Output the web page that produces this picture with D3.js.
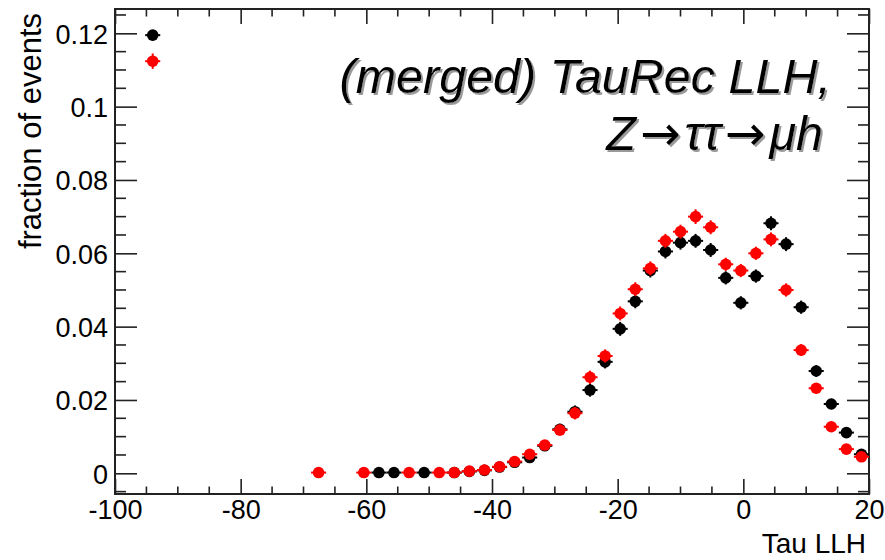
<!DOCTYPE html>
<html>
<head>
<meta charset="utf-8">
<script src="https://cdn.jsdelivr.net/npm/d3@7"></script>
<style>
  html, body { margin: 0; padding: 0; background: #fff; }
  svg { display: block; font-family: "Liberation Sans", Arial, Helvetica, sans-serif; }
</style>
</head>
<body>
<svg id="chart" width="885" height="560"></svg>
<script>
// Tau LLH discriminant, fraction of events per bin (bin width 2.4)
const binWidth = 2.4;
const binCenters = [-94.0, -67.6, -60.4, -58.0, -55.6, -53.2, -50.8, -48.4, -46.0, -43.6,
  -41.2, -38.8, -36.4, -34.0, -31.6, -29.2, -26.8, -24.4, -22.0, -19.6,
  -17.2, -14.8, -12.4, -10.0, -7.6, -5.2, -2.8, -0.4, 2.0, 4.4,
  6.8, 9.2, 11.6, 14.0, 16.4, 18.8];

// black series
const blackValues = [0.1195, null, null, 0.0002, 0.0002, null, 0.0002, null, 0.0002, 0.0005,
  0.0008, 0.0017, 0.0030, 0.0043, 0.0075, 0.0120, 0.0168, 0.0227, 0.0304, 0.0394,
  0.0469, 0.0553, 0.0605, 0.0629, 0.0634, 0.0609, 0.0533, 0.0465, 0.0538, 0.0682,
  0.0625, 0.0453, 0.0279, 0.0189, 0.0111, 0.0052];
const blackErrors = [0.0014, 0, 0, 0.0002, 0.0002, 0, 0.0002, 0, 0.0002, 0.0004,
  0.0005, 0.0007, 0.0009, 0.0011, 0.0013, 0.0015, 0.0017, 0.0018, 0.0018, 0.0019,
  0.0019, 0.0019, 0.0019, 0.0019, 0.0019, 0.0019, 0.0018, 0.0018, 0.0018, 0.0019,
  0.0019, 0.0018, 0.0016, 0.0014, 0.0011, 0.0008];

// red series
const redValues = [0.1124, 0.0002, 0.0002, null, null, 0.0002, null, 0.0002, 0.0002, 0.0006,
  0.0009, 0.0018, 0.0032, 0.0052, 0.0077, 0.0118, 0.0164, 0.0262, 0.0320, 0.0436,
  0.0502, 0.0559, 0.0634, 0.0659, 0.0700, 0.0671, 0.0570, 0.0553, 0.0600, 0.0638,
  0.0500, 0.0336, 0.0232, 0.0127, 0.0066, 0.0045];
const redErrors = [0.0021, 0.0002, 0.0002, 0, 0, 0.0002, 0, 0.0002, 0.0002, 0.0004,
  0.0005, 0.0007, 0.0009, 0.0011, 0.0013, 0.0015, 0.0017, 0.0018, 0.0018, 0.0019,
  0.0019, 0.0019, 0.0019, 0.0019, 0.0020, 0.0019, 0.0018, 0.0018, 0.0018, 0.0019,
  0.0018, 0.0016, 0.0014, 0.0011, 0.0009, 0.0008];

const xMajorTicks = [-100, -80, -60, -40, -20, 0, 20];
const xTickLabels = ["-100", "-80", "-60", "-40", "-20", "0", "20"];
const yMajorTicks = [0, 0.02, 0.04, 0.06, 0.08, 0.1, 0.12];
const yTickLabels = ["0", "0.02", "0.04", "0.06", "0.08", "0.1", "0.12"];

// title pieces: [text, isArrow]
const titleLine1 = "(merged) TauRec LLH,";
const titleLine2 = [["Z", false], ["\u2192", true], ["\u03c4\u03c4", false], ["\u2192", true], ["\u03bch", false]];
const xTitle = "Tau LLH";
const yTitle = "fraction of events";

// frame geometry
const frame = { left: 115, right: 869, top: 9, bottom: 494 };
const svg = d3.select("#chart");

// shadow used by the title text
const defs = svg.append("defs");
defs.append("filter").attr("id", "shadow")
  .attr("x", "-5%").attr("y", "-10%").attr("width", "115%").attr("height", "130%")
  .append("feDropShadow")
  .attr("dx", 2).attr("dy", 2).attr("stdDeviation", 0.4)
  .attr("flood-color", "#9a9a9a").attr("flood-opacity", 1);

const x = d3.scaleLinear().domain([-100, 20]).range([frame.left, frame.right]);
const y = d3.scaleLinear().domain([-0.005645, 0.12663]).range([frame.bottom, frame.top]);

const axisColor = "#222";

// minor tick positions
const xMinor = d3.range(-100, 20.001, 5).filter(v => !xMajorTicks.some(t => Math.abs(t - v) < 1e-9));
const yMinor = d3.range(-0.005, 0.1266, 0.005).filter(v => !yMajorTicks.some(t => Math.abs(t - v) < 1e-6));

// bottom axis
const bottomAxis = svg.append("g").attr("transform", `translate(0,${frame.bottom})`)
  .call(d3.axisBottom(x).tickValues(xMajorTicks).tickSize(-15).tickPadding(6)
    .tickFormat((d, i) => xTickLabels[i]));
bottomAxis.append("g").selectAll("line").data(xMinor).join("line")
  .attr("x1", d => x(d)).attr("x2", d => x(d)).attr("y1", 0).attr("y2", -7.5);

// top axis (ticks only)
const topAxis = svg.append("g").attr("transform", `translate(0,${frame.top})`)
  .call(d3.axisTop(x).tickValues(xMajorTicks).tickSize(-15).tickFormat(""));
topAxis.append("g").selectAll("line").data(xMinor).join("line")
  .attr("x1", d => x(d)).attr("x2", d => x(d)).attr("y1", 0).attr("y2", 7.5);

// left axis
const leftAxis = svg.append("g").attr("transform", `translate(${frame.left},0)`)
  .call(d3.axisLeft(y).tickValues(yMajorTicks).tickSize(-22).tickPadding(7)
    .tickFormat((d, i) => yTickLabels[i]));
leftAxis.append("g").selectAll("line").data(yMinor).join("line")
  .attr("y1", d => y(d)).attr("y2", d => y(d)).attr("x1", 0).attr("x2", 11);

// right axis (ticks only)
const rightAxis = svg.append("g").attr("transform", `translate(${frame.right},0)`)
  .call(d3.axisRight(y).tickValues(yMajorTicks).tickSize(-22).tickFormat(""));
rightAxis.append("g").selectAll("line").data(yMinor).join("line")
  .attr("y1", d => y(d)).attr("y2", d => y(d)).attr("x1", 0).attr("x2", -11);

[bottomAxis, topAxis, leftAxis, rightAxis].forEach(g => {
  g.select(".domain").remove();
  g.selectAll("line").attr("stroke", axisColor).attr("stroke-width", 1.6);
  g.selectAll("text").attr("fill", "#000").attr("font-size", 27)
    .attr("font-family", "'Liberation Sans', Arial, sans-serif");
});
leftAxis.selectAll(".tick text").attr("dy", "0.36em");
bottomAxis.selectAll(".tick text").attr("dy", "0.71em");

// frame
svg.append("rect")
  .attr("x", frame.left).attr("y", frame.top)
  .attr("width", frame.right - frame.left).attr("height", frame.bottom - frame.top)
  .attr("fill", "none").attr("stroke", axisColor).attr("stroke-width", 2);

// axis titles
svg.append("text")
  .attr("x", 866).attr("y", 553)
  .attr("text-anchor", "end").attr("font-size", 28).attr("fill", "#000")
  .text(xTitle);
svg.append("text")
  .attr("transform", "translate(41,13) rotate(-90)")
  .attr("text-anchor", "end").attr("font-size", 31).attr("fill", "#000")
  .text(yTitle);

// data points with error bars
function drawSeries(values, errors, color) {
  const pts = binCenters.map((c, i) => ({ c, v: values[i], e: errors[i] }))
    .filter(d => d.v !== null);
  const g = svg.append("g");
  g.selectAll("line.h").data(pts).join("line").attr("class", "h")
    .attr("x1", d => x(d.c - binWidth / 2)).attr("x2", d => x(d.c + binWidth / 2))
    .attr("y1", d => y(d.v)).attr("y2", d => y(d.v))
    .attr("stroke", color).attr("stroke-width", 2);
  g.selectAll("line.v").data(pts).join("line").attr("class", "v")
    .attr("x1", d => x(d.c)).attr("x2", d => x(d.c))
    .attr("y1", d => y(d.v - d.e)).attr("y2", d => y(d.v + d.e))
    .attr("stroke", color).attr("stroke-width", 2);
  g.selectAll("circle").data(pts).join("circle")
    .attr("cx", d => x(d.c)).attr("cy", d => y(d.v)).attr("r", 5.8)
    .attr("fill", color);
}
drawSeries(blackValues, blackErrors, "#000");
drawSeries(redValues, redErrors, "#ff0000");

// title, two right-aligned lines with a drop shadow
const titleSize = 48.5;
svg.append("text")
  .attr("x", 831).attr("y", 93)
  .attr("text-anchor", "end").attr("font-size", titleSize).attr("font-style", "italic")
  .attr("fill", "#000").attr("filter", "url(#shadow)")
  .text(titleLine1);
const line2 = svg.append("text")
  .attr("x", 823).attr("y", 150)
  .attr("text-anchor", "end").attr("font-size", titleSize).attr("font-style", "italic")
  .attr("fill", "#000").attr("filter", "url(#shadow)");
titleLine2.forEach(([t, isArrow], i) => {
  const ts = line2.append("tspan").text(t);
  if (isArrow) {
    ts.attr("font-family", "'DejaVu Sans', sans-serif").attr("font-style", "normal")
      .attr("font-size", titleSize).attr("dx", 4);
  } else if (i > 0) {
    ts.attr("dx", 4);
  }
});
</script>
</body>
</html>
